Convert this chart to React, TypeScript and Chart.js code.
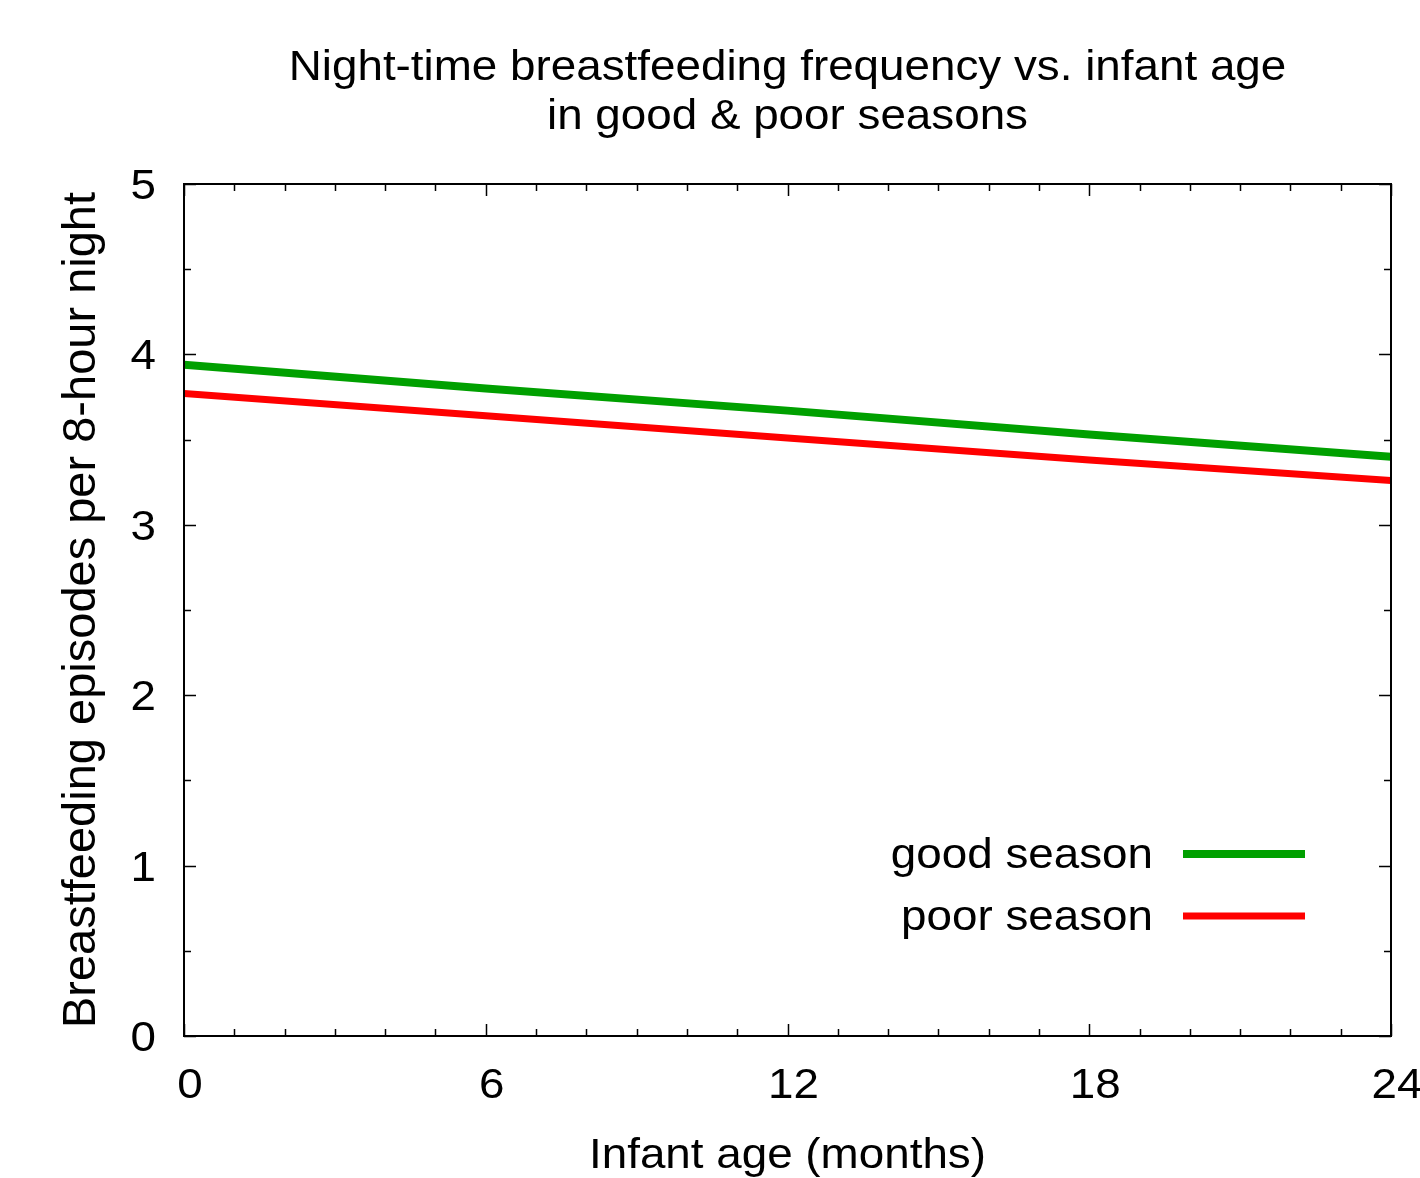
import React, { useEffect, useRef } from "react";
import { Chart, registerables } from "chart.js";

Chart.register(...registerables);

const months = [0, 6, 12, 18, 24];
const goodSeason = [3.94, 3.80, 3.67, 3.53, 3.40];
const poorSeason = [3.77, 3.64, 3.51, 3.38, 3.26];
const seriesLabels = ["good season", "poor season"];
const xTicks = [0, 6, 12, 18, 24];
const yTicks = [0, 1, 2, 3, 4, 5];
const titleLines = ["Night-time breastfeeding frequency vs. infant age", "in good & poor seasons"];
const xTitle = "Infant age (months)";
const yTitle = "Breastfeeding episodes per 8-hour night";

const FAMILY = "'Liberation Sans', Arial, sans-serif";
const HSCALE = 1.09;

function drawText(
  ctx: CanvasRenderingContext2D,
  text: string,
  x: number,
  y: number,
  size: number,
  align: CanvasTextAlign,
  hscale = HSCALE
) {
  ctx.save();
  ctx.font = `${size}px ${FAMILY}`;
  ctx.textAlign = align;
  ctx.textBaseline = "alphabetic";
  ctx.fillStyle = "#000";
  ctx.translate(x, y);
  ctx.scale(hscale, 1);
  ctx.fillText(text, 0, 0);
  ctx.restore();
}

const framePlugin = {
  id: "gnuplotFrame",
  afterDatasetsDraw(chart: any) {
    const ctx = chart.ctx as CanvasRenderingContext2D;
    const { left, right, top, bottom } = chart.chartArea;
    const xs = chart.scales.x;
    const ys = chart.scales.y;
    ctx.save();
    ctx.strokeStyle = "#000";
    ctx.lineWidth = 2;
    ctx.strokeRect(left, top, right - left, bottom - top);
    ctx.lineWidth = 1.5;
    for (let m = 0; m <= 24; m++) {
      const px = Math.round(xs.getPixelForValue(m)) + 0.5;
      const len = xTicks.includes(m) ? 12 : 7;
      ctx.beginPath();
      ctx.moveTo(px, bottom);
      ctx.lineTo(px, bottom - len);
      ctx.moveTo(px, top);
      ctx.lineTo(px, top + len);
      ctx.stroke();
    }
    for (let k = 0; k <= 10; k++) {
      const v = k / 2;
      const py = Math.round(ys.getPixelForValue(v)) + 0.5;
      const len = k % 2 === 0 ? 12 : 7;
      ctx.beginPath();
      ctx.moveTo(left, py);
      ctx.lineTo(left + len, py);
      ctx.moveTo(right, py);
      ctx.lineTo(right - len, py);
      ctx.stroke();
    }
    xTicks.forEach((t) => {
      drawText(ctx, String(t), xs.getPixelForValue(t) + 6, 1098, 42, "center");
    });
    yTicks.forEach((t) => {
      drawText(ctx, String(t), left - 28, ys.getPixelForValue(t) + 15, 42, "right");
    });
    const cx = (left + right) / 2;
    drawText(ctx, titleLines[0], cx, 80, 42, "center");
    drawText(ctx, titleLines[1], cx, 129, 42, "center");
    drawText(ctx, xTitle, cx, 1168, 42, "center");
    ctx.save();
    ctx.translate(95, (top + bottom) / 2);
    ctx.rotate(-Math.PI / 2);
    drawText(ctx, yTitle, 0, 0, 47, "center", 1);
    ctx.restore();
    const legendY = [854, 916];
    chart.data.datasets.forEach((ds: any, i: number) => {
      drawText(ctx, ds.label, 1153, legendY[i] + 14, 42, "right");
      ctx.strokeStyle = ds.borderColor;
      ctx.lineWidth = ds.borderWidth;
      ctx.beginPath();
      ctx.moveTo(1183, legendY[i]);
      ctx.lineTo(1305, legendY[i]);
      ctx.stroke();
    });
    ctx.restore();
  },
};

export default function App() {
  const ref = useRef<HTMLCanvasElement | null>(null);
  useEffect(() => {
    if (!ref.current) return;
    const chart = new Chart(ref.current, {
      type: "line",
      data: {
        datasets: [
          {
            label: seriesLabels[0],
            data: months.map((m, i) => ({ x: m, y: goodSeason[i] })),
            borderColor: "#00a000",
            backgroundColor: "#00a000",
            borderWidth: 8,
            pointRadius: 0,
            tension: 0,
          },
          {
            label: seriesLabels[1],
            data: months.map((m, i) => ({ x: m, y: poorSeason[i] })),
            borderColor: "#ff0000",
            backgroundColor: "#ff0000",
            borderWidth: 7,
            pointRadius: 0,
            tension: 0,
          },
        ],
      },
      options: {
        animation: false,
        responsive: false,
        maintainAspectRatio: false,
        layout: { padding: { left: 184, top: 184, right: 29, bottom: 142 } },
        plugins: { legend: { display: false }, title: { display: false }, tooltip: { enabled: false } },
        scales: {
          x: { type: "linear", min: 0, max: 24, display: false },
          y: { type: "linear", min: 0, max: 5, display: false },
        },
      },
      plugins: [framePlugin],
    });
    return () => chart.destroy();
  }, []);
  return (
    <div style={{ position: "absolute", left: 0, top: 0, width: 1420, height: 1178, background: "#fff" }}>
      <canvas ref={ref} width={1420} height={1178} style={{ display: "block" }} />
    </div>
  );
}
